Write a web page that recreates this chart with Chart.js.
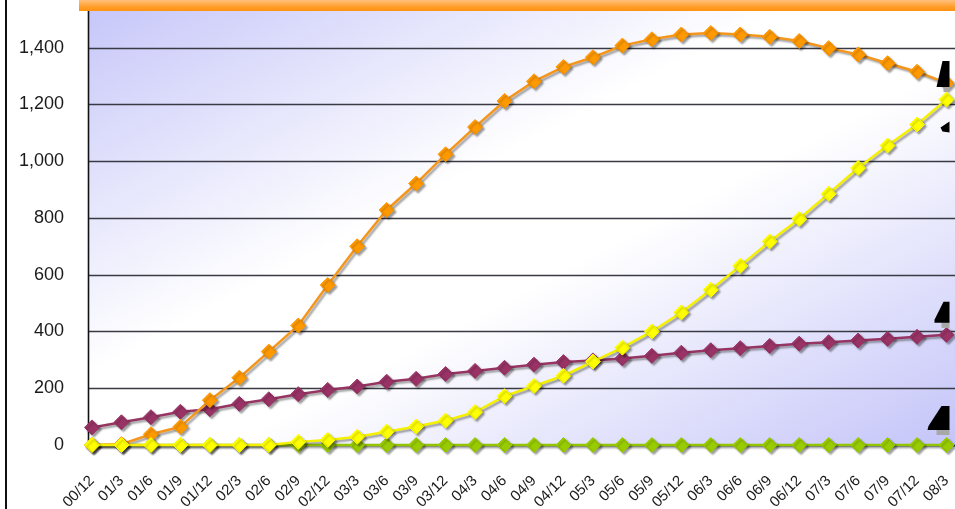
<!DOCTYPE html>
<html>
<head>
<meta charset="utf-8">
<script src="https://cdn.jsdelivr.net/npm/chart.js@4/dist/chart.umd.min.js"></script>
<style>
  html, body { margin: 0; padding: 0; width: 955px; height: 509px; overflow: hidden; background: #fff; }
  #wrap { position: absolute; left: 0; top: -40px; width: 955px; height: 570px; }
  #frame { position: absolute; left: 5px; top: 0; width: 2px; height: 509px; background: #111; }
  #banner { position: absolute; left: 79px; top: 0; width: 876px; height: 11px;
            background: linear-gradient(#ffc07c, #ff9c26 65%, #ff9212); }
</style>
</head>
<body>
<div id="wrap"><canvas id="c" width="955" height="570"></canvas></div>
<div id="banner"></div>
<div id="frame"></div>
<script>
// Quarterly periods (yy/m)
const periods = ['00/12','01/3','01/6','01/9','01/12','02/3','02/6','02/9','02/12','03/3',
                 '03/6','03/9','03/12','04/3','04/6','04/9','04/12','05/3','05/6','05/9',
                 '05/12','06/3','06/6','06/9','06/12','07/3','07/6','07/9','07/12','08/3'];

const orangeValues = [0, 3, 38, 64, 158, 237, 329, 421, 564, 700,
                      828, 921, 1024, 1120, 1212, 1281, 1332, 1366, 1407, 1429,
                      1446, 1451, 1446, 1438, 1423, 1398, 1376, 1345, 1315, 1275];

const yellowValues = [0, 0, 0, 0, 0, 0, 0, 11, 18, 29,
                      47, 65, 86, 116, 172, 208, 244, 294, 343, 400,
                      467, 547, 631, 717, 796, 885, 976, 1055, 1129, 1217];

const purpleValues = [62, 80, 98, 117, 126, 145, 161, 179, 194, 206,
                      223, 233, 250, 261, 272, 283, 292, 298, 305, 314,
                      325, 334, 341, 349, 357, 362, 368, 374, 381, 388];

const greenValues = [0, 0, 0, 0, 0, 0, 0, 0, 0, 0,
                     0, 0, 0, 0, 0, 0, 0, 0, 0, 0,
                     0, 0, 0, 0, 0, 0, 0, 0, 0, 0];

const yTickMin = 0, yTickMax = 1600, yTickStep = 200;

// Plot-area fill, horizontal rules and axis lines
const backdrop = {
  id: 'backdrop',
  beforeDatasetsDraw(chart) {
    const { ctx, chartArea: a, scales: { y } } = chart;
    const left = a.left - 4, right = chart.width;
    const top = a.top, bottom = y.getPixelForValue(0) + 2;
    ctx.save();
    ctx.translate(left, top);
    ctx.scale(right - left, bottom - top);
    const g = ctx.createLinearGradient(0, 0, 1, 1);
    g.addColorStop(0, '#c4c4f9');
    g.addColorStop(0.42, '#ffffff');
    g.addColorStop(0.58, '#ffffff');
    g.addColorStop(1, '#c4c4f9');
    ctx.fillStyle = g;
    ctx.fillRect(0, 0, 1, 1);
    ctx.restore();

    ctx.save();
    ctx.strokeStyle = '#3a3a44';
    ctx.lineWidth = 1.4;
    y.ticks.forEach(t => {
      const py = Math.round(y.getPixelForValue(t.value)) + 0.5;
      ctx.beginPath();
      ctx.moveTo(left, py);
      ctx.lineTo(right, py);
      ctx.stroke();
    });
    ctx.strokeStyle = '#111';
    ctx.lineWidth = 1.6;
    ctx.beginPath();
    ctx.moveTo(left + 0.5, top);
    ctx.lineTo(left + 0.5, bottom - 1);
    ctx.stroke();
    ctx.restore();
  }
};

// Soft drop shadow under each series
const shade = {
  id: 'shade',
  beforeDatasetDraw(chart) {
    const c = chart.ctx;
    c.save();
    c.shadowColor = 'rgba(0,0,0,0.38)';
    c.shadowOffsetX = 2;
    c.shadowOffsetY = 2;
    c.shadowBlur = 2;
  },
  afterDatasetDraw(chart) { chart.ctx.restore(); }
};

// Black callout pointers at the end of each series
const pointers = {
  id: 'pointers',
  afterDatasetsDraw(chart) {
    const ctx = chart.ctx;
    const shapes = [
      { ds: 0, pts: [[-4,-22],[3,-22],[3,4],[-10,4]], sh: [[-3,4],[3,4],[3,9],[-3,9]] },
      { ds: 1, pts: [[3,22],[-6,28],[-4,32],[3,33]], sh: null },
      { ds: 2, pts: [[-3,-33],[3,-33],[3,-12],[-12,-12],[-12,-15]], sh: [[-5,-13],[3,-13],[3,-7],[-5,-7]] },
      { ds: 3, pts: [[-5,-39],[3,-39],[3,-15],[-19,-15],[-18,-19]], sh: [[-10,-17],[3,-17],[3,-10],[-10,-10]] }
    ];
    shapes.forEach(s => {
      const meta = chart.getDatasetMeta(s.ds);
      const p = meta.data[meta.data.length - 1];
      const poly = (pts, col) => {
        ctx.beginPath();
        pts.forEach(([dx, dy], i) => i ? ctx.lineTo(p.x + dx, p.y + dy) : ctx.moveTo(p.x + dx, p.y + dy));
        ctx.closePath();
        ctx.fillStyle = col;
        ctx.fill();
      };
      ctx.save();
      if (s.sh) poly(s.sh, '#a8a8a8');
      poly(s.pts, '#000');
      ctx.restore();
    });
  }
};

function series(data, line, fill, order) {
  return {
    data,
    borderColor: line,
    backgroundColor: fill,
    pointBackgroundColor: fill,
    pointBorderColor: fill,
    borderWidth: 2.5,
    pointStyle: 'rectRot',
    pointRadius: 7.5,
    pointBorderWidth: 1,
    tension: 0,
    clip: false,
    order
  };
}

new Chart(document.getElementById('c'), {
  type: 'line',
  data: {
    labels: periods,
    datasets: [
      series(orangeValues, '#f5961c', '#ff9900', 1),
      series(yellowValues, '#f4f000', '#ffff00', 0),
      series(purpleValues, '#963462', '#993366', 2),
      series(greenValues, '#92c400', '#99cc00', 3)
    ]
  },
  options: {
    responsive: false,
    animation: false,
    events: [],
    layout: { padding: { top: 24, right: 2, left: 0, bottom: 0 } },
    plugins: { legend: { display: false }, tooltip: { enabled: false }, title: { display: false } },
    scales: {
      x: {
        type: 'category',
        offset: false,
        grid: { display: false },
        border: { display: false },
        ticks: {
          autoSkip: false,
          maxRotation: 45,
          minRotation: 45,
          padding: 19,
          color: '#1a1a1a',
          font: { family: 'Liberation Sans', size: 15 }
        },
        afterFit(scale) { scale.height = 85; scale.paddingRight = 0; scale.paddingLeft = 0; }
      },
      y: {
        min: yTickMin,
        max: yTickMax,
        grid: { display: false },
        border: { display: false },
        ticks: {
          stepSize: yTickStep,
          padding: 20,
          color: '#1a1a1a',
          font: { family: 'Liberation Sans', size: 18 },
          callback: v => v.toLocaleString('en-US')
        },
        afterFit(scale) { scale.width = 92; }
      }
    }
  },
  plugins: [backdrop, shade, pointers]
});
</script>
</body>
</html>
